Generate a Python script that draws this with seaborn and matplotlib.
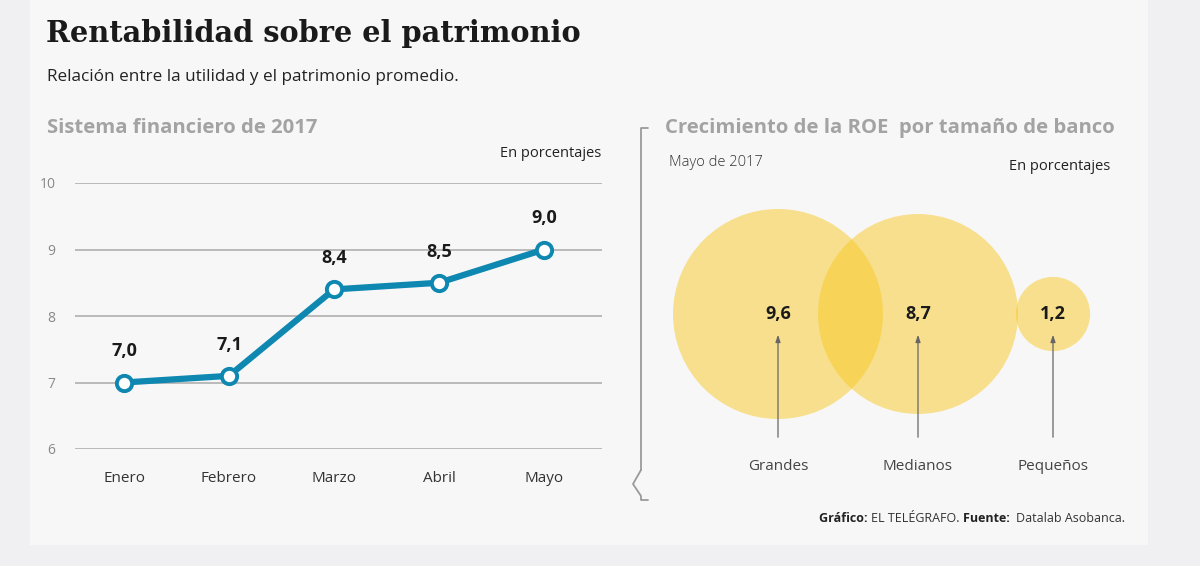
import matplotlib
matplotlib.use("Agg")
import matplotlib.pyplot as plt
from matplotlib.patches import Rectangle
from matplotlib.lines import Line2D
import seaborn as sns
import pandas as pd

# --- data ---
months = ["Enero", "Febrero", "Marzo", "Abril", "Mayo"]
roe_2017 = [7.0, 7.1, 8.4, 8.5, 9.0]
bank_sizes = ["Grandes", "Medianos", "Pequeños"]
roe_by_size = [9.6, 8.7, 1.2]

# --- layout / style ---
BLUE = "#0e87b1"
YELLOW = "#f7c925"
GREY_HEAD = "#a3a3a3"
BG_CARD = "#f7f7f7"
BG_OUT = "#f0f0f3"
bubble_x = [778, 918, 1053]   # pixel layout of the bubbles
bubble_y = 314

sns.set_theme(style="white")
plt.rcParams["font.family"] = ["Open Sans", "DejaVu Sans"]

fig = plt.figure(figsize=(12, 5.66), dpi=100, facecolor=BG_OUT)
W, H = 1200, 566

def fx(px):
    return px / W

def fy(py):
    return 1 - py / H

# card behind everything
fig.patches.append(Rectangle((fx(30), fy(545)), fx(1148) - fx(30), fy(0) - fy(545),
                             transform=fig.transFigure, facecolor=BG_CARD,
                             edgecolor="none", zorder=-10))

# titles
fig.text(fx(46), fy(33), "Rentabilidad sobre el patrimonio", fontsize=20.8,
         fontweight="bold", family="DejaVu Serif", color="#1a1a1a", va="center")
fig.text(fx(47), fy(77), "Relación entre la utilidad y el patrimonio promedio.",
         fontsize=12.3, color="#222222", va="center")
fig.text(fx(47), fy(128), "Sistema financiero de 2017", fontsize=14.6,
         fontweight="bold", color=GREY_HEAD, va="center")
fig.text(fx(601), fy(154), "En porcentajes", fontsize=10.5, color="#222222",
         va="center", ha="right")

# --- left line chart ---
df_line = pd.DataFrame({"mes": range(len(months)), "roe": roe_2017})
ax = fig.add_axes([fx(75), fy(449), fx(602) - fx(75), fy(183) - fy(449)])
ax.set_facecolor("none")
sns.lineplot(data=df_line, x="mes", y="roe", ax=ax, color=BLUE, linewidth=4.5,
             marker="o", markersize=11, markerfacecolor="white",
             markeredgecolor=BLUE, markeredgewidth=2.8, zorder=3)
ax.set_xlim(-0.467, 4.552)
ax.set_ylim(6, 10)
ax.set_yticks([6, 7, 8, 9, 10])
ax.set_yticklabels(["6", "7", "8", "9", "10"])
ax.set_xticks(range(len(months)))
ax.set_xticklabels(months)
ax.grid(axis="y", color="#b5b5b5", linewidth=1.3)
ax.grid(axis="x", visible=False)
for s in ax.spines.values():
    s.set_visible(False)
ax.tick_params(axis="y", length=0, pad=14, labelsize=10, labelcolor="#888888")
ax.tick_params(axis="x", length=0, pad=16, labelsize=11, labelcolor="#333333")
ax.set_xlabel("")
ax.set_ylabel("")
for i, v in enumerate(roe_2017):
    ax.annotate(f"{v:.1f}".replace(".", ","), (i, v), xytext=(0, 16),
                textcoords="offset points", ha="center", va="bottom",
                fontsize=13, fontweight="bold", color="#1a1a1a")

# --- bracket ---
bx = fx(641)
fig.add_artist(Line2D([fx(648), bx, bx], [fy(128), fy(128), fy(470)],
                      transform=fig.transFigure, color="#9a9a9a", lw=1.3))
fig.add_artist(Line2D([bx, fx(633), bx, bx, fx(648)],
                      [fy(470), fy(484), fy(496), fy(500), fy(500)],
                      transform=fig.transFigure, color="#9a9a9a", lw=1.3))

# --- right bubble chart ---
fig.text(fx(665), fy(128), "Crecimiento de la ROE  por tamaño de banco",
         fontsize=14.6, fontweight="bold", color=GREY_HEAD, va="center")
fig.text(fx(669), fy(163), "Mayo de 2017", fontsize=10.5, color="#333333",
         va="center", fontweight="light")
fig.text(fx(1110), fy(167), "En porcentajes", fontsize=10.5, color="#222222",
         va="center", ha="right")

ax2 = fig.add_axes([0, 0, 1, 1])
ax2.set_facecolor("none")

df_b = pd.DataFrame({"x": bubble_x, "y": [bubble_y] * 3, "roe": roe_by_size,
                     "tam": bank_sizes})
# area proportional to value: radius 105 px for 9.6
r_max_pt = 105 * 72 / 100
s_max = (2 * r_max_pt) ** 2
sns.scatterplot(data=df_b, x="x", y="y", size="roe", sizes=(0, s_max),
                size_norm=(0, 9.6), color=YELLOW, alpha=0.5, linewidth=0,
                legend=False, ax=ax2, zorder=2)
ax2.set_xlim(0, W)
ax2.set_ylim(H, 0)
ax2.axis("off")

for x, v, name in zip(bubble_x, roe_by_size, bank_sizes):
    ax2.text(x, bubble_y, f"{v:.1f}".replace(".", ","), ha="center", va="center",
             fontsize=13, fontweight="bold", color="#1a1a1a", zorder=4)
    ax2.annotate("", xy=(x, 332), xytext=(x, 440),
                 arrowprops=dict(arrowstyle="-|>,head_length=0.35,head_width=0.12",
                                 color="#666666", lw=0.9), zorder=4)
    ax2.text(x, 466, name, ha="center", va="center", fontsize=11,
             color="#444444", zorder=4)

# --- footer (right aligned, pieces chained leftwards) ---
t3 = ax2.text(1125, 519, "Datalab Asobanca.", fontsize=9, color="#333333",
              ha="right", va="center")
a2 = ax2.annotate("Fuente:  ", xy=(0, 0), xycoords=t3, ha="right", va="bottom",
                  fontsize=9, fontweight="bold", color="#222222")
a1 = ax2.annotate("EL TELÉGRAFO. ", xy=(0, 0), xycoords=a2, ha="right",
                  va="bottom", fontsize=9, color="#333333")
ax2.annotate("Gráfico: ", xy=(0, 0), xycoords=a1, ha="right", va="bottom",
             fontsize=9, fontweight="bold", color="#222222")

fig.savefig("out.png", dpi=100, facecolor=BG_OUT)
